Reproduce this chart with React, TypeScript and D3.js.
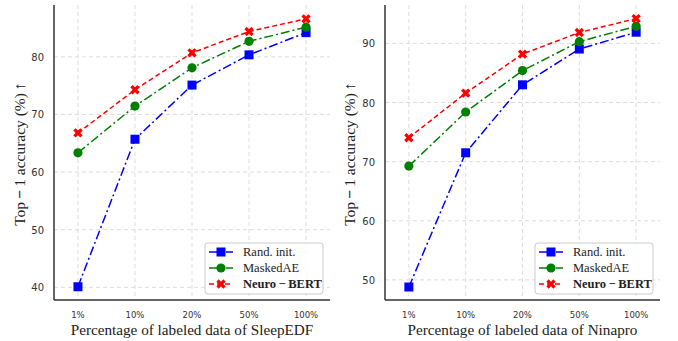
import React, { useEffect, useRef } from 'react';
import * as d3 from 'd3';

const ticks = ['1%', '10%', '20%', '50%', '100%'];
const seriesNames = ['Rand. init.', 'MaskedAE', 'Neuro\u2009\u2212\u2009BERT'];

const sleepRand = [40.1, 65.7, 75.1, 80.35, 84.2];
const sleepMasked = [63.35, 71.45, 78.1, 82.7, 85.15];
const sleepNeuro = [66.8, 74.3, 80.7, 84.4, 86.6];

const ninaRand = [48.8, 71.5, 83.0, 89.05, 91.9];
const ninaMasked = [69.25, 78.4, 85.4, 90.3, 92.9];
const ninaNeuro = [74.05, 81.6, 88.2, 91.85, 94.2];

const sleepYTicks = [40, 50, 60, 70, 80];
const ninaYTicks = [50, 60, 70, 80, 90];

const colors = ['#0000ff', '#008000', '#ff0000'];
const dashes = ['9,3,2,3', '9,3,2,3', '5,3'];
const serif = "'Liberation Serif', 'DejaVu Serif', 'Times New Roman', serif";

interface Panel {
  left: number;
  right: number;
  yDomain: [number, number];
  yTicks: number[];
  series: number[][];
  xLabel: string;
  legendX: number;
  yLabelX: number;
}

const panels: Panel[] = [
  {
    left: 54, right: 330, yDomain: [37.8, 89.0], yTicks: sleepYTicks,
    series: [sleepRand, sleepMasked, sleepNeuro],
    xLabel: 'Percentage of labeled data of SleepEDF', legendX: 205, yLabelX: 25,
  },
  {
    left: 385, right: 660, yDomain: [46.6, 96.5], yTicks: ninaYTicks,
    series: [ninaRand, ninaMasked, ninaNeuro],
    xLabel: 'Percentage of labeled data of Ninapro', legendX: 535, yLabelX: 355,
  },
];

const top = 5;
const bottom = 300;

const xShape = d3.symbol(d3.symbolCross, 55);

function drawMarker(g: d3.Selection<SVGGElement, unknown, null, undefined>, k: number, cx: number, cy: number) {
  if (k === 0) {
    g.append('rect').attr('x', cx - 4.5).attr('y', cy - 4.5).attr('width', 9).attr('height', 9)
      .attr('fill', colors[k]);
  } else if (k === 1) {
    g.append('circle').attr('cx', cx).attr('cy', cy).attr('r', 4.6).attr('fill', colors[k]);
  } else {
    g.append('path').attr('d', xShape()).attr('fill', colors[k])
      .attr('transform', `translate(${cx},${cy}) rotate(45)`);
  }
}

const App: React.FC = () => {
  const ref = useRef<SVGSVGElement | null>(null);

  useEffect(() => {
    const svg = d3.select(ref.current);
    svg.selectAll('*').remove();

    panels.forEach(p => {
      const x = d3.scalePoint<string>().domain(ticks).range([p.left, p.right]).padding(0.42);
      const y = d3.scaleLinear().domain(p.yDomain).range([bottom, top]);
      const g = svg.append('g');

      // grid
      g.selectAll('.vg').data(ticks).enter().append('line')
        .attr('x1', d => x(d)!).attr('x2', d => x(d)!)
        .attr('y1', top).attr('y2', bottom)
        .attr('stroke', '#dddddd').attr('stroke-width', 1).attr('stroke-dasharray', '4,3');
      g.selectAll('.hg').data(p.yTicks).enter().append('line')
        .attr('x1', p.left).attr('x2', p.right)
        .attr('y1', d => y(d)).attr('y2', d => y(d))
        .attr('stroke', '#dddddd').attr('stroke-width', 1).attr('stroke-dasharray', '4,3');

      // tick labels
      g.selectAll('.xt').data(ticks).enter().append('text')
        .attr('x', d => x(d)!).attr('y', 318)
        .attr('text-anchor', 'middle').attr('font-family', 'DejaVu Sans').attr('font-size', 8.5)
        .attr('fill', '#333').text(d => d);
      g.selectAll('.yt').data(p.yTicks).enter().append('text')
        .attr('x', p.left - 10).attr('y', d => y(d) + 4)
        .attr('text-anchor', 'end').attr('font-family', 'DejaVu Sans').attr('font-size', 10)
        .attr('fill', '#333').text(d => d);

      // spines
      g.append('line').attr('x1', p.left).attr('x2', p.left).attr('y1', top).attr('y2', bottom)
        .attr('stroke', '#333').attr('stroke-width', 1.5);
      g.append('line').attr('x1', p.left).attr('x2', p.right).attr('y1', bottom).attr('y2', bottom)
        .attr('stroke', '#333').attr('stroke-width', 1.5);

      // series
      p.series.forEach((vals, k) => {
        const line = d3.line<number>().x((_, i) => x(ticks[i])!).y(v => y(v));
        g.append('path').datum(vals).attr('d', line).attr('fill', 'none')
          .attr('stroke', colors[k]).attr('stroke-width', 1.5).attr('stroke-dasharray', dashes[k]);
        vals.forEach((v, i) => drawMarker(g, k, x(ticks[i])!, y(v)));
      });

      // axis labels
      g.append('text').attr('x', (p.left + p.right) / 2).attr('y', 335)
        .attr('text-anchor', 'middle').attr('font-family', serif).attr('font-size', 15.2)
        .attr('fill', '#222').text(p.xLabel);
      const yl = g.append('text')
        .attr('transform', `translate(${p.yLabelX},${154}) rotate(-90)`)
        .attr('text-anchor', 'middle').attr('font-family', serif).attr('font-size', 15.5)
        .attr('fill', '#222');
      yl.append('tspan').text('Top\u2009');
      yl.append('tspan').attr('font-weight', 'bold').text('\u2212');
      yl.append('tspan').text('\u20091 accuracy (%)\u2009\u2191');

      // legend
      const lg = g.append('g').attr('transform', `translate(${p.legendX},243)`);
      lg.append('rect').attr('width', 118).attr('height', 51).attr('rx', 3)
        .attr('fill', 'white').attr('fill-opacity', 0.8).attr('stroke', '#cccccc');
      seriesNames.forEach((name, k) => {
        const ly = 9 + k * 16;
        lg.append('line').attr('x1', 4).attr('x2', 28).attr('y1', ly).attr('y2', ly)
          .attr('stroke', colors[k]).attr('stroke-width', 1.5).attr('stroke-dasharray', dashes[k]);
        drawMarker(lg, k, 16, ly);
        lg.append('text').attr('x', 38).attr('y', ly + 4)
          .attr('font-family', serif).attr('font-size', 12.5)
          .attr('font-weight', k === 2 ? 'bold' : 'normal')
          .attr('fill', '#222').text(name);
      });
    });
  }, []);

  return (
    <div>
      <svg ref={ref} width={678} height={341} style={{ position: 'absolute', left: 0, top: 0 }}></svg>
    </div>
  );
};

export default App;
